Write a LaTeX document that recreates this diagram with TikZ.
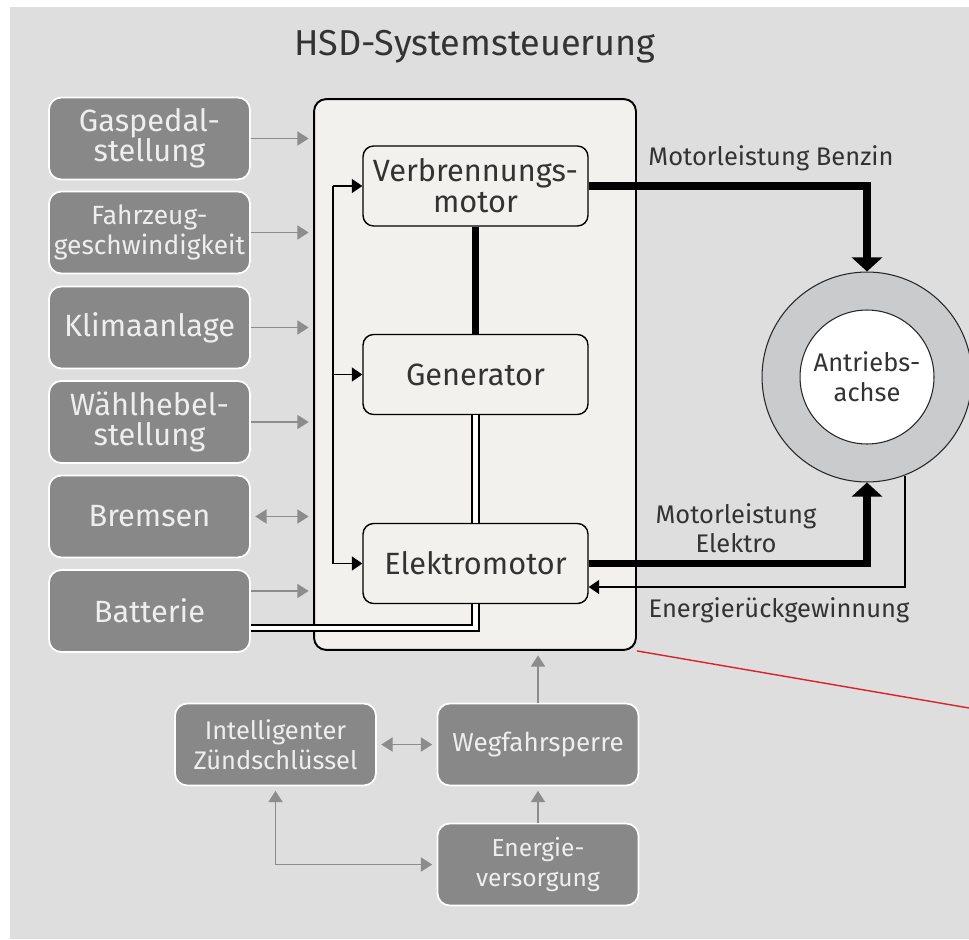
\documentclass[tikz,border=0pt]{standalone}
\usepackage{fontspec}
\setmainfont{Fira Sans}
\usetikzlibrary{arrows.meta,calc}
\definecolor{bg}{HTML}{DEDEDE}
\definecolor{panel}{HTML}{F2F1ED}
\definecolor{boxgray}{HTML}{888888}
\definecolor{linegray}{HTML}{8C8C8C}
\definecolor{ring}{HTML}{CACBCD}
\definecolor{txt}{HTML}{333333}
\definecolor{boxtxt}{HTML}{EEEEEE}
\definecolor{redline}{HTML}{D8232A}
\begin{document}
\begin{tikzpicture}[x=0.02cm,y=-0.02cm,
 inbox/.style={draw=black, line width=0.8pt, fill=panel, rounded corners=6pt, minimum width=4.5cm, minimum height=1.6cm, align=center, text=txt, font=\fontsize{17.5}{17.5}\selectfont},
 gbox/.style={draw=white, line width=1pt, fill=boxgray, rounded corners=7pt, minimum width=4.02cm, minimum height=1.64cm, inner xsep=1pt, align=center, text=boxtxt, font=\fontsize{17.5}{17}\selectfont},
 garrow/.style={draw=linegray, line width=1.1pt, -{Triangle[length=6.5pt,width=8pt]}, shorten >=2.5pt},
 gdarrow/.style={draw=linegray, line width=1.1pt, {Triangle[length=6.5pt,width=8pt]}-{Triangle[length=6.5pt,width=8pt]}, shorten >=2.5pt, shorten <=2.5pt},
 barrow/.style={draw=black, line width=0.8pt, -{Triangle[length=6pt,width=8pt]}},
 thickarrow/.style={draw=black, line width=4.5pt, -{Triangle[length=8pt,width=17pt]}},
 dbl/.style={draw=black, line width=0.9pt, double=white, double distance=2.8pt},
 lbl/.style={text=txt, font=\fontsize{14.5}{16.5}\selectfont, align=center}
]
\useasboundingbox (0,0) rectangle (969,939);
\fill[white] (0,0) rectangle (969,939);
\fill[bg] (10,7) rectangle (969,939);

\node[text=txt, font=\fontsize{20.5}{24}\selectfont] (title) at (475,47) {HSD-Systemsteuerung};

\node[draw=black, line width=1.1pt, fill=panel, rounded corners=7pt, minimum width=6.44cm, minimum height=11.02cm] (hsd) at (475,374.5) {};

% inner boxes
\node[inbox] (verb) at (475.5,186) {Verbrennungs-\\motor};
\node[inbox] (gen) at (475.5,374.5) {Generator};
\node[inbox] (elek) at (475.5,563.5) {Elektromotor};

% left gray boxes
\node[gbox] (gas) at (149.5,138.5) {Gaspedal-\\stellung};
\node[gbox, font=\fontsize{15}{17}\selectfont] (fahr) at (149.5,232.5) {Fahrzeug-\\geschwindigkeit};
\node[gbox] (klima) at (149.5,327.5) {Klimaanlage};
\node[gbox] (wahl) at (149.5,422) {Wählhebel-\\stellung};
\node[gbox] (brems) at (149.5,516.5) {Bremsen};
\node[gbox] (bat) at (149.5,611) {Batterie};

% bottom gray boxes
\node[gbox, font=\fontsize{14.5}{17}\selectfont] (key) at (275.5,744.5) {Intelligenter\\Zündschlüssel};
\node[gbox, font=\fontsize{14.8}{17}\selectfont] (weg) at (538,744.5) {Wegfahrsperre};
\node[gbox, font=\fontsize{14}{17}\selectfont] (energ) at (538,864.5) {Energie-\\versorgung};

% axle
\node[circle, draw=black!85, line width=0.6pt, fill=ring, minimum size=4.2cm] (axle) at (867,377) {};
\node[circle, draw=black!85, line width=0.6pt, fill=white, minimum size=2.68cm, inner sep=0pt, align=center, text=txt, font=\fontsize{14.5}{17}\selectfont] (axin) at (867,377) {Antriebs-\\achse};

% labels
\node[lbl] (lben) at (771,158) {Motorleistung Benzin};
\node[lbl] (lel) at (736,528) {Motorleistung\\Elektro};
\node[lbl] (ler) at (779,610) {Energierückgewinnung};

% gray input arrows
\foreach \b in {gas,fahr,klima,wahl}
  \draw[garrow] (\b.east) -- (\b.east -| hsd.west);
\draw[gdarrow] (brems.east) -- (brems.east -| hsd.west);
\coordinate (ybat) at (0,591);
\draw[garrow] (bat.east |- ybat) -- (hsd.west |- ybat);

% battery double line
\coordinate (ybd) at (0,628);
\draw[dbl] (bat.east |- ybd) -| (elek.south);

% inner connections
\draw[line width=4.5pt] (verb.south) -- (gen.north);
\draw[dbl] (gen.south) -- (elek.north);
\coordinate (vl) at (333,0);
\draw[black, line width=0.8pt] (vl |- verb.west) -- (vl |- elek.west);
\foreach \n in {verb,gen,elek}
  \draw[barrow] (vl |- \n.west) -- (\n.west);

% power arrows
\draw[thickarrow] (verb.east) -| (axle.north);
\draw[thickarrow] (elek.east) -| (axle.south);
\coordinate (yer) at (0,587);
\draw[barrow] (axle.-69) -- (axle.-69 |- yer) -- (elek.east |- yer);

% bottom arrows
\draw[garrow] (weg.north) -- (weg.north |- hsd.south);
\draw[garrow] (energ.north) -- (weg.south);
\draw[gdarrow] (key.east) -- (weg.west);
\draw[gdarrow] (energ.west) -| (key.south);

% red line
\draw[redline, line width=0.8pt] (hsd.south east) -- (969,708);
\end{tikzpicture}
\end{document}
